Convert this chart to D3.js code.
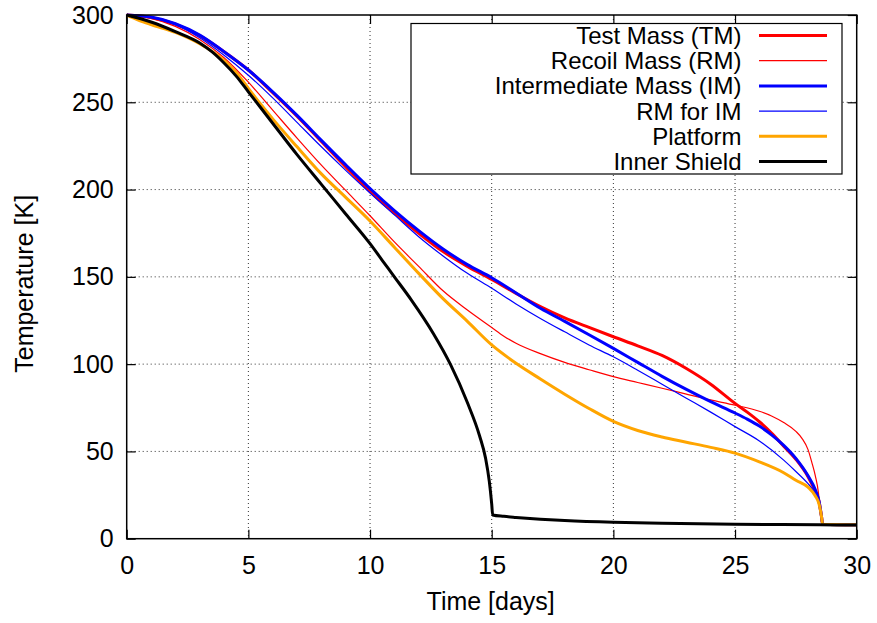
<!DOCTYPE html>
<html>
<head>
<meta charset="utf-8">
<script src="https://cdn.jsdelivr.net/npm/d3@7"></script>
<style>
  body { margin: 0; background: #fff; }
  svg { display: block; font-family: "Liberation Sans", Arial, sans-serif; }
</style>
</head>
<body>
<div id="chart"></div>
<script>
// cooldown data
const tmDays = [0,1,2,3,4,5,6,7,8,9,10,11,12,13,14,15,16,17,18,19,20,21,22,23,24,25,25.5,26,26.5,27,27.5,28,28.3,28.45,28.55,28.6,30];
const tmTemp = [300,298.6,294.8,288.2,279,268.5,255.5,242,227.5,213,199,186.5,175,164.5,156,148.5,140.5,133,126.5,121,115.7,110.5,105,97.5,88.5,77.5,72.5,67,60.5,53,45.5,35.5,27,21.5,13,8.3,8];

const rmDays = [0,1,2,3,4,5,6,7,8,9,10,11,12,13,14,15,15.5,16,17,18,19,20,21,22,23,24,25,26,26.5,27,27.5,27.75,28,28.15,28.3,28.43,28.5,28.57,30];
const rmTemp = [300,298,293.5,286,275.5,261.5,245.5,229.5,214,199.5,185,170,156,142,131,121,116,112,106,101,96.8,92.8,89.5,86.2,82.8,79.5,76.5,73,70.3,66.5,61.5,57.5,51,44,36,26,15.5,8.5,8];

const imDays = [0,1,2,3,4,5,6,7,8,9,10,11,12,13,14,15,16,17,18,19,20,21,22,23,24,25,25.5,26,26.5,27,27.5,28,28.3,28.45,28.55,28.6,30];
const imTemp = [300,298.8,295,288.5,279,268.5,256,242.5,228.2,214.2,200.6,188,176.5,166,157,149.5,140.8,132,124.5,116.8,109,101,93,85.5,78.5,72,68.5,64.5,59.5,53.5,46,36,28,21.5,13,8.3,8];

const rmImDays = [0,1,2,3,4,5,6,7,8,9,10,11,12,13,14,15,16,17,18,19,20,21,22,23,24,25,26,27,27.5,28,28.3,28.45,28.55,28.6,30];
const rmImTemp = [300,298.5,294.5,287,277,265.5,252.5,238.5,224.5,211,198,185.5,173,162,152,143.5,134.5,126.2,118.5,111,104.2,96.5,88.5,80.5,72.5,64.2,56,45,38.5,31.5,26,21.5,13,8.3,8];

const platDays = [0,0.5,1,2,3,4,4.5,5,5.5,6,7,8,9,10,11,12,13,14,15,16,17,18,19,20,21,22,23,24,25,26,27,27.5,28,28.3,28.45,28.55,28.6,30];
const platTemp = [300,297,294.5,290,283.5,274,267,258,249,240.5,224.5,209,195.5,182,167,152,137.5,124.5,111,100.5,91.5,82.8,74.6,67.2,62,58.3,55.3,52.3,49,44,37.8,33.5,29.5,24.5,20,13,8.3,8];

const shieldDays = [0,1,2,3,3.5,4,4.5,5,5.5,6,7,8,9,10,10.5,11,11.7,12.6,13.3,14,14.5,14.75,14.9,15,15.04,15.5,16,17,18,20,22,25,28.5,30];
const shieldTemp = [300,296,290.5,284,279,272.5,265,256,247,238,220,203,186,169,159.5,150,136.7,117.6,100,78,59,46,33,20,13.6,12.8,12.2,11.2,10.4,9.4,8.9,8.3,8,7.8];

const seriesNames = ["Test Mass (TM)", "Recoil Mass (RM)", "Intermediate Mass (IM)", "RM for IM", "Platform", "Inner Shield"];
const xTicks = [0, 5, 10, 15, 20, 25, 30];
const yTicks = [0, 50, 100, 150, 200, 250, 300];

const series = [
    { name: seriesNames[0], days: tmDays, temp: tmTemp, color: "#ff0000", width: 3 },
    { name: seriesNames[1], days: rmDays, temp: rmTemp, color: "#ff0000", width: 1.2 },
    { name: seriesNames[2], days: imDays, temp: imTemp, color: "#0000ff", width: 3 },
    { name: seriesNames[3], days: rmImDays, temp: rmImTemp, color: "#0000ff", width: 1.2 },
    { name: seriesNames[4], days: platDays, temp: platTemp, color: "#ffa500", width: 3 },
    { name: seriesNames[5], days: shieldDays, temp: shieldTemp, color: "#000000", width: 3 }
];

const width = 877, height = 623;
const margin = { top: 15, right: 20.3, bottom: 84.3, left: 126.7 };
const w = width - margin.left - margin.right;
const h = height - margin.top - margin.bottom;

const svg = d3.select("#chart").append("svg")
    .attr("width", width)
    .attr("height", height);

const g = svg.append("g")
    .attr("transform", `translate(${margin.left},${margin.top})`);

const x = d3.scaleLinear().domain([0, 30]).range([0, w]);
const y = d3.scaleLinear().domain([0, 300]).range([h, 0]);

// dotted grid
g.append("g").selectAll("line")
    .data(xTicks.slice(1, -1))
    .join("line")
    .attr("x1", d => x(d)).attr("x2", d => x(d))
    .attr("y1", 0).attr("y2", h)
    .attr("stroke", "#333").attr("stroke-width", 1)
    .attr("stroke-dasharray", "1,3");

g.append("g").selectAll("line")
    .data(yTicks.slice(1, -1))
    .join("line")
    .attr("x1", 0).attr("x2", w)
    .attr("y1", d => y(d)).attr("y2", d => y(d))
    .attr("stroke", "#333").attr("stroke-width", 1)
    .attr("stroke-dasharray", "1,3");

// axes, ticks pointing inward
const fontSize = "25px";
const xAxis = g.append("g")
    .attr("transform", `translate(0,${h})`)
    .call(d3.axisBottom(x).tickValues(xTicks).tickSize(-9).tickPadding(17.5));
const yAxis = g.append("g")
    .call(d3.axisLeft(y).tickValues(yTicks).tickSize(-9).tickPadding(13));
const xTop = g.append("g")
    .call(d3.axisTop(x).tickValues(xTicks).tickSize(-9).tickFormat(""));
const yRight = g.append("g")
    .attr("transform", `translate(${w},0)`)
    .call(d3.axisRight(y).tickValues(yTicks).tickSize(-9).tickFormat(""));

[xAxis, yAxis, xTop, yRight].forEach(a => {
    a.select(".domain").remove();
    a.selectAll(".tick line").attr("stroke", "#000").attr("stroke-width", 1.2);
    a.selectAll("text").style("font-size", fontSize).attr("fill", "#000")
        .style("font-family", "'Liberation Sans', Arial, sans-serif");
});

// lines
const line = d3.line()
    .x(d => x(d[0]))
    .y(d => y(d[1]))
    .curve(d3.curveMonotoneX);

const plot = g.append("g");
series.forEach(s => {
    const pts = s.days.map((d, i) => [d, s.temp[i]]);
    plot.append("path")
        .datum(pts)
        .attr("d", line)
        .attr("fill", "none")
        .attr("stroke", s.color)
        .attr("stroke-width", s.width)
        .attr("stroke-linejoin", "round");
});

// frame
g.append("rect")
    .attr("width", w).attr("height", h)
    .attr("fill", "none")
    .attr("stroke", "#000").attr("stroke-width", 1.5);

// axis titles
svg.append("text")
    .attr("x", margin.left + w / 2 - 1)
    .attr("y", 610)
    .attr("text-anchor", "middle")
    .style("font-size", fontSize)
    .text("Time [days]");

svg.append("text")
    .attr("transform", `translate(33,${margin.top + h / 2 + 7}) rotate(-90)`)
    .attr("text-anchor", "middle")
    .style("font-size", fontSize)
    .text("Temperature [K]");

// legend
const legend = svg.append("g");
legend.append("rect")
    .attr("x", 411).attr("y", 23.5)
    .attr("width", 431).attr("height", 150.5)
    .attr("fill", "#fff")
    .attr("stroke", "#000").attr("stroke-width", 1.2);

const rowH = 25.2;
const rows = legend.selectAll("g.item")
    .data(series)
    .join("g")
    .attr("class", "item")
    .attr("transform", (d, i) => `translate(0,${35.5 + i * rowH})`);

rows.append("text")
    .attr("x", 741.5)
    .attr("dy", "0.35em")
    .attr("text-anchor", "end")
    .style("font-size", "24px")
    .text(d => d.name);

rows.append("line")
    .attr("x1", 759).attr("x2", 827)
    .attr("stroke", d => d.color)
    .attr("stroke-width", d => d.width);
</script>
</body>
</html>
